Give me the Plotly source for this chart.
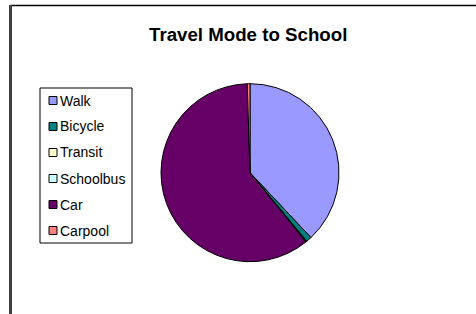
import plotly.graph_objects as go

W, H = 476, 314

labels = ["Walk", "Bicycle", "Transit", "Schoolbus", "Car", "Carpool"]
values = [38.0, 1.0, 0.1, 0.1, 60.3, 0.5]
colors = ["#9999FF", "#008080", "#FFFFCC", "#CCFFFF", "#660066", "#FF8080"]
title_text = "Travel Mode to School"


def px(x):
    return x / W


def py(y):
    return 1 - y / H


cx, cy, r = 250, 172.7, 89

fig = go.Figure()
fig.add_trace(go.Pie(
    labels=labels, values=values, sort=False, direction="clockwise",
    rotation=0, textinfo="none", hoverinfo="label+percent",
    marker=dict(colors=colors, line=dict(color="#000000", width=1)),
    domain=dict(x=[px(cx - r), px(cx + r)], y=[py(cy + r), py(cy - r)]),
    showlegend=False,
))

shapes = [
    # chart frame (partially cropped)
    dict(type="line", xref="paper", yref="paper", x0=px(10.5), x1=px(476), y0=py(5.5), y1=py(5.5),
         line=dict(color="#000000", width=1.5)),
    dict(type="line", xref="paper", yref="paper", x0=px(10.5), x1=px(10.5), y0=py(5), y1=py(314),
         line=dict(color="#404040", width=3)),
    # legend box
    dict(type="rect", xref="paper", yref="paper", x0=px(40), x1=px(132), y0=py(243), y1=py(88),
         line=dict(color="#000000", width=1), fillcolor="#FFFFFF"),
]
annotations = [
    dict(text="<b>" + title_text + "</b>", xref="paper", yref="paper", x=px(248), y=py(35),
         xanchor="center", yanchor="middle", showarrow=False,
         font=dict(family="Liberation Sans, Arial", size=18.7, color="#000000")),
]

item_y0, item_dy = 100.5, 26
for i, (lab, col) in enumerate(zip(labels, colors)):
    yc = item_y0 + i * item_dy
    shapes.append(dict(type="rect", xref="paper", yref="paper",
                       x0=px(49), x1=px(57), y0=py(yc + 4), y1=py(yc - 4),
                       line=dict(color="#000000", width=1), fillcolor=col))
    annotations.append(dict(text=lab, xref="paper", yref="paper", x=px(57.5), y=py(yc),
                            xanchor="left", yanchor="middle", showarrow=False,
                            font=dict(family="Liberation Sans, Arial", size=14, color="#000000")))

fig.update_layout(
    width=W, height=H, margin=dict(l=0, r=0, t=0, b=0),
    paper_bgcolor="#FFFFFF", plot_bgcolor="#FFFFFF",
    shapes=shapes, annotations=annotations, showlegend=False,
)

fig.write_html("out.html", config={"displayModeBar": False},
               post_script="document.body.style.margin='0px';document.body.style.overflow='hidden';")
